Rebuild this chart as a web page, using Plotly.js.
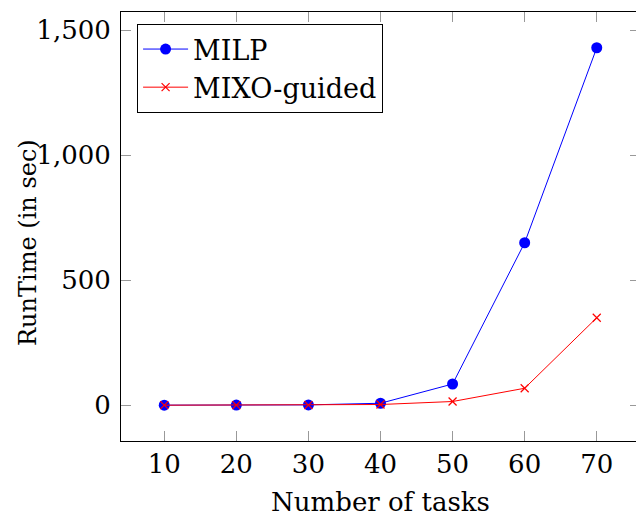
<!DOCTYPE html>
<html>
<head>
<meta charset="utf-8">
<script src="https://cdn.plot.ly/plotly-3.0.1.min.js"></script>
<style>
html,body{margin:0;padding:0;overflow:hidden;background:#fff;}
#chart{width:641px;height:517px;}
</style>
</head>
<body>
<div id="chart"></div>
<script>
const tasks = [10, 20, 30, 40, 50, 60, 70];
const milpRuntime = [0.5, 0.8, 1.5, 8, 85, 650, 1430];
const mixoRuntime = [0.2, 0.3, 0.5, 3, 15, 68, 350];
const seriesNames = ["MILP", "MIXO-guided"];
const xTitle = "Number of tasks";
const yTitle = "RunTime (in sec)";

const FONT = "DejaVu Serif";

const traces = [
  {
    x: tasks, y: milpRuntime, name: seriesNames[0],
    type: "scatter", mode: "lines+markers",
    line: {color: "#0000ff", width: 1},
    marker: {color: "#0000ff", size: 11, symbol: "circle"}
  },
  {
    x: tasks, y: mixoRuntime, name: seriesNames[1],
    type: "scatter", mode: "lines+markers",
    line: {color: "#ff0000", width: 1},
    marker: {color: "#ff0000", size: 8, symbol: "x-thin-open", line: {color: "#ff0000", width: 1.2}}
  }
];

const layout = {
  width: 641, height: 517,
  margin: {l: 121, r: 1, t: 12, b: 76},
  paper_bgcolor: "#fff", plot_bgcolor: "#fff",
  font: {family: FONT, size: 26, color: "#000"},
  showlegend: true,
  legend: {
    x: 0.031, y: 0.972, xanchor: "left", yanchor: "top",
    bgcolor: "#fff", bordercolor: "#000", borderwidth: 1,
    font: {family: FONT, size: 27, color: "#000"},
    itemwidth: 45,
    tracegroupgap: 0
  },
  xaxis: {
    range: [4, 76],
    tickvals: tasks,
    ticktext: tasks.map(String),
    showgrid: false, zeroline: false,
    showline: true, linecolor: "#000", linewidth: 1,
    mirror: "ticks",
    ticks: "inside", ticklen: 10, tickwidth: 1, tickcolor: "#999",
    ticklabelstandoff: 0,
    tickfont: {family: FONT, size: 26},
    title: {text: xTitle, font: {family: FONT, size: 26}, standoff: 18},
    automargin: false
  },
  yaxis: {
    range: [-143, 1573],
    tickvals: [0, 500, 1000, 1500],
    tickformat: ",d",
    showgrid: false, zeroline: false,
    showline: true, linecolor: "#000", linewidth: 1,
    mirror: "ticks",
    ticks: "inside", ticklen: 10, tickwidth: 1, tickcolor: "#999",
    ticklabelstandoff: 4,
    tickfont: {family: FONT, size: 26},
    automargin: false
  },
  annotations: [{
    text: yTitle, xref: "paper", yref: "paper",
    x: -0.178, y: 0.463, xanchor: "center", yanchor: "middle",
    textangle: -90, showarrow: false,
    font: {family: FONT, size: 24, color: "#000"}
  }]
};

Plotly.newPlot("chart", traces, layout, {displayModeBar: false, staticPlot: true});
</script>
</body>
</html>
